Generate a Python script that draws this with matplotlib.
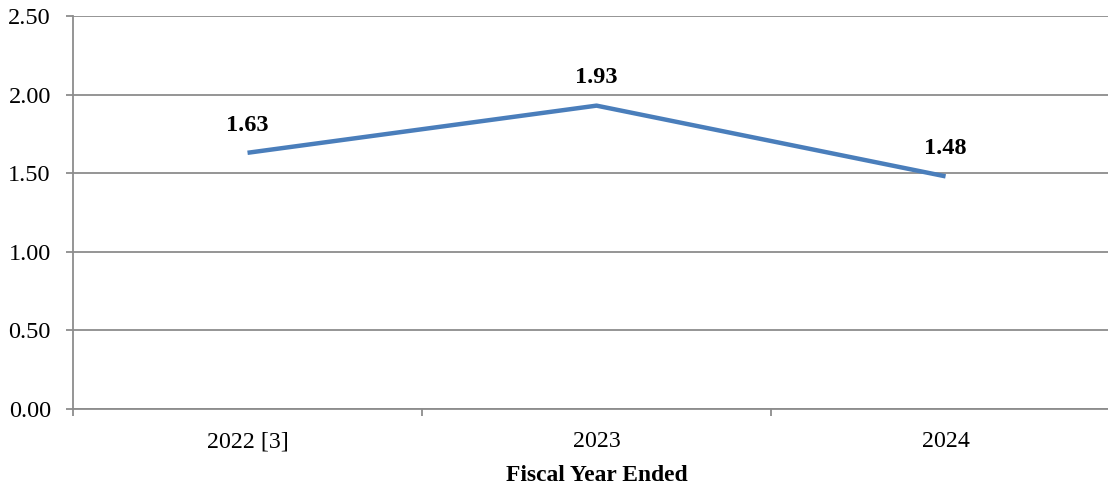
import matplotlib.pyplot as plt
from matplotlib.ticker import FixedLocator, MultipleLocator

years = ["2022 [3]", "2023", "2024"]
ratio = [1.63, 1.93, 1.48]
ratio_labels = ["1.63", "1.93", "1.48"]

plt.rcParams['font.family'] = ['Liberation Serif', 'DejaVu Serif']

fig = plt.figure(figsize=(11.08, 4.86), dpi=100)
# plot area runs a little past the right edge of the figure
ax = fig.add_axes([0.0659, 0.1584, 0.945, 0.8086])

grey = "#8c8c8c"
x = list(range(len(years)))
ax.plot(x, ratio, color="#4a7ebb", lw=3.2, solid_capstyle="butt", zorder=3)

for xi, v, lab in zip(x, ratio, ratio_labels):
    ax.annotate(lab, (xi, v), xytext=(0, 20), textcoords="offset points",
                ha="center", va="center", fontsize=17.5, fontweight="bold")

ax.set_xlim(-0.5, len(years) - 0.5)
ax.set_ylim(0, 2.5)
ax.yaxis.set_major_locator(MultipleLocator(0.5))
ax.yaxis.set_major_formatter(lambda v, p: f"{v:.2f}")
ax.grid(axis="y", color=grey, lw=1.3)
ax.set_axisbelow(True)

ax.set_xticks(x)
ax.set_xticklabels(years)
ax.xaxis.set_minor_locator(FixedLocator([i - 0.5 for i in range(len(years) + 1)]))
ax.tick_params(axis="x", which="major", length=0, pad=16, labelsize=17.2)
ax.tick_params(axis="x", which="minor", length=5, color=grey, width=1.3)
ax.tick_params(axis="y", length=5, color=grey, width=1.3, pad=11, labelsize=17.5)

for side in ["top", "right"]:
    ax.spines[side].set_visible(False)
for side in ["left", "bottom"]:
    ax.spines[side].set_color(grey)
    ax.spines[side].set_linewidth(1.3)

ax.set_xlabel("Fiscal Year Ended", fontsize=16.9, fontweight="bold", labelpad=9)

fig.savefig("out.png", dpi=100)
